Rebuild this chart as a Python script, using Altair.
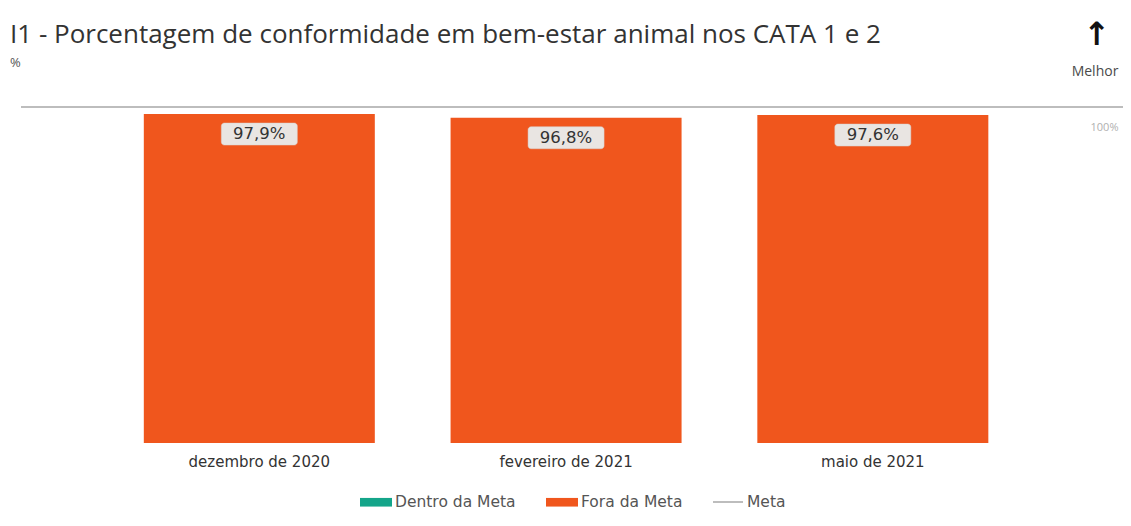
import altair as alt
import pandas as pd

categories = ["dezembro de 2020", "fevereiro de 2021", "maio de 2021"]
values = [97.9, 96.8, 97.6]
status = ["Fora da Meta", "Fora da Meta", "Fora da Meta"]
meta_value = [100]
bar_items = ["Dentro da Meta", "Fora da Meta"]
bar_colors = ["#14A58A", "#F0561D"]
meta_items = ["Meta"]
meta_colors = ["#BDBDBD"]

bars_df = pd.DataFrame({
    "mes": categories,
    "valor": values,
    "status": status,
    "rotulo": [f"{v:.1f}%".replace(".", ",") for v in values],
})
meta_df = pd.DataFrame({"meta": meta_value, "linha": meta_items})

FONT = "Open Sans"
FONT2 = "DejaVu Sans"

xscale = alt.Scale(domain=categories, paddingInner=0.2476, paddingOuter=0.42, align=0.477)
yscale = alt.Scale(domain=[0, 100], nice=False)

x_axis = alt.Axis(title=None, labelAngle=0, ticks=False, domain=False,
                  labelFontSize=15, labelColor="#333333", labelFont=FONT2,
                  labelPadding=11)
y_axis = alt.Axis(orient="right", values=[100], title=None, grid=False,
                  ticks=False, domain=False, labelExpr="'100%'",
                  labelAlign="right", labelPadding=-5, labelOffset=20,
                  labelFontSize=11, labelColor="#b0b0b0", labelFont=FONT)

rect_path = "M-1,-0.27H1V0.27H-1Z"

bars = alt.Chart(bars_df).mark_bar(size=231).encode(
    x=alt.X("mes:N", scale=xscale, sort=categories, axis=x_axis),
    y=alt.Y("valor:Q", scale=yscale, axis=y_axis),
    color=alt.Color("status:N", scale=alt.Scale(domain=bar_items, range=bar_colors),
                    legend=alt.Legend(
                        title=None, orient="none", direction="horizontal",
                        legendX=339, legendY=379,
                        symbolType=rect_path, symbolSize=1024, symbolStrokeWidth=0,
                        labelFontSize=15.5, labelColor="#555555", labelFont=FONT2,
                        labelOffset=3)),
)

meta = alt.Chart(meta_df).mark_rule(strokeWidth=2).encode(
    y=alt.Y("meta:Q", scale=yscale, axis=y_axis),
    stroke=alt.Stroke("linha:N", scale=alt.Scale(domain=meta_items, range=meta_colors),
                      legend=alt.Legend(
                          title=None, orient="none", direction="horizontal",
                          legendX=691, legendY=379,
                          symbolType="stroke", symbolSize=900, symbolStrokeWidth=2,
                          labelFontSize=15.5, labelColor="#555555", labelFont=FONT2,
                          labelOffset=3)),
)

box_path = ("M-3.5,-1.1H3.5A0.3,0.3 0 0 1 3.8,-0.8V0.8A0.3,0.3 0 0 1 3.5,1.1"
            "H-3.5A0.3,0.3 0 0 1 -3.8,0.8V-0.8A0.3,0.3 0 0 1 -3.5,-1.1Z")

boxes = alt.Chart(bars_df).mark_point(
    shape=box_path, size=400, filled=True, fill="#E9E5E2", opacity=1,
    stroke="#d6d2ce", strokeWidth=0.5, yOffset=20,
).encode(
    x=alt.X("mes:N", scale=xscale, sort=categories, axis=x_axis),
    y=alt.Y("valor:Q", scale=yscale, axis=y_axis),
)

labels = alt.Chart(bars_df).mark_text(
    fontSize=16.5, color="#333333", font=FONT2, baseline="middle", dy=20,
).encode(
    x=alt.X("mes:N", scale=xscale, sort=categories, axis=x_axis),
    y=alt.Y("valor:Q", scale=yscale, axis=y_axis),
    text="rotulo:N",
)

arrow = alt.Chart(meta_df).mark_text(
    text="↑", fontSize=32, fontWeight="bold", color="#111111", font=FONT2,
    x=1076, y=-72, baseline="middle", align="center",
).encode(opacity=alt.value(1))

melhor = alt.Chart(meta_df).mark_text(
    text="Melhor", fontSize=14, color="#4a4a4a", font=FONT,
    x=1074, y=-35, baseline="middle", align="center",
).encode(opacity=alt.value(1))

chart = alt.layer(meta, bars, boxes, labels, arrow, melhor).properties(
    width=1102, height=336,
    background="white",
    autosize=alt.AutoSizeParams(type="none"),
    padding={"left": 13, "top": 99, "right": 0, "bottom": 75},
    title=alt.Title(
        "I1 - Porcentagem de conformidade em bem-estar animal nos CATA 1 e 2",
        subtitle="%",
        anchor="start", frame="group", dx=-11, offset=-51,
        fontSize=26, font=FONT, fontWeight="normal", color="#333333",
        subtitleFontSize=13, subtitleColor="#555555", subtitleFont=FONT,
        subtitlePadding=9,
    ),
).configure_view(stroke="transparent", strokeWidth=0).configure_axis(
    domain=False, ticks=False, grid=False
).configure_legend(columnPadding=30)

chart.save("out.html", embed_options={"renderer": "svg", "actions": False})
